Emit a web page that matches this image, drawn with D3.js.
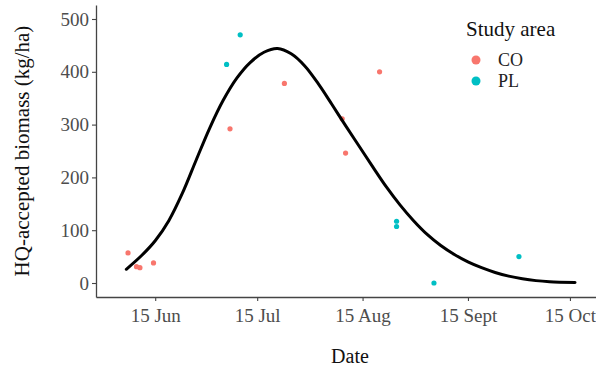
<!DOCTYPE html>
<html>
<head>
<meta charset="utf-8">
<script src="https://cdn.jsdelivr.net/npm/d3@7"></script>
<style>
  html, body { margin: 0; padding: 0; background: #fff; }
  svg { display: block; }
  text { font-family: "Liberation Serif", "Times New Roman", serif; }
</style>
</head>
<body>
<svg id="chart" width="596" height="368"></svg>
<script>
// Sampling observations, per study area
const coDates  = ["2021-06-07", "2021-06-09T12:00", "2021-06-10T12:00", "2021-06-14T12:00", "2021-07-07", "2021-07-23", "2021-08-09", "2021-08-10", "2021-08-20"];
const coValues = [57, 31, 29, 38, 292, 378, 311, 246, 400];
const plDates  = ["2021-07-06", "2021-07-10", "2021-08-25", "2021-08-25", "2021-09-05", "2021-09-30"];
const plValues = [414, 470, 117, 107, 0, 50];

// Fitted seasonal biomass curve
const fitDates  = ["2021-06-06T12:00", "2021-06-11", "2021-06-15", "2021-06-19", "2021-06-23", "2021-06-27",
                   "2021-07-01", "2021-07-05", "2021-07-09", "2021-07-13", "2021-07-17", "2021-07-21",
                   "2021-07-25", "2021-07-29", "2021-08-02", "2021-08-06", "2021-08-10", "2021-08-14",
                   "2021-08-18", "2021-08-22", "2021-08-26", "2021-08-30", "2021-09-03", "2021-09-07",
                   "2021-09-11", "2021-09-15", "2021-09-19", "2021-09-23", "2021-09-27", "2021-10-01",
                   "2021-10-05", "2021-10-09", "2021-10-16T12:00"];
const fitValues = [26, 52, 80, 118, 170, 232,
                   293, 346, 388, 418, 437, 444,
                   434, 411, 377, 338, 298, 259,
                   220, 182, 148, 118, 92, 71,
                   54, 40, 29, 20, 13, 8,
                   4.5, 2.5, 1];

// Axis ticks and legend
const xTickDates  = ["2021-06-15", "2021-07-15", "2021-08-15", "2021-09-15", "2021-10-15"];
const xTickLabels = ["15 Jun", "15 Jul", "15 Aug", "15 Sept", "15 Oct"];
const yTicks = [0, 100, 200, 300, 400, 500];
const areas = ["CO", "PL"];
const areaColors = ["#F8766D", "#00BFC4"];

const parse = d3.isoParse;
const svg = d3.select("#chart");

const plotLeft = 96, plotRight = 596, plotTop = 5, plotBottom = 297;

const x = d3.scaleTime()
  .domain([parse("2021-05-28T14:00"), parse("2021-10-22T16:00")])
  .range([plotLeft, plotRight]);
const y = d3.scaleLinear()
  .domain([-26.5, 526.5])
  .range([plotBottom, plotTop]);
const color = d3.scaleOrdinal().domain(areas).range(areaColors);

// Axes
const xAxis = d3.axisBottom(x)
  .tickValues(xTickDates.map(parse))
  .tickFormat((d, i) => xTickLabels[i])
  .tickSizeInner(4).tickSizeOuter(0).tickPadding(4);
const yAxis = d3.axisLeft(y)
  .tickValues(yTicks)
  .tickSizeInner(4).tickSizeOuter(0).tickPadding(3);

const gx = svg.append("g").attr("transform", `translate(0,${plotBottom})`).call(xAxis);
const gy = svg.append("g").attr("transform", `translate(${plotLeft},0)`).call(yAxis);

[gx, gy].forEach(g => {
  g.select(".domain").attr("stroke", "#444").attr("stroke-width", 1.3);
  g.selectAll(".tick line").attr("stroke", "#444").attr("stroke-width", 1.1);
  g.selectAll(".tick text")
    .attr("fill", "#4d4d4d")
    .style("font-size", "19px")
    .style("font-family", '"Liberation Serif", serif');
});
gx.selectAll(".tick text").attr("dy", "0.92em");

// Observations
const points = []
  .concat(coDates.map((d, i) => ({ date: parse(d), value: coValues[i], area: "CO" })))
  .concat(plDates.map((d, i) => ({ date: parse(d), value: plValues[i], area: "PL" })));

svg.append("g").selectAll("circle")
  .data(points)
  .join("circle")
  .attr("cx", d => x(d.date))
  .attr("cy", d => y(d.value))
  .attr("r", 2.6)
  .attr("fill", d => color(d.area));

// Fitted curve
const fit = fitDates.map((d, i) => ({ date: parse(d), value: fitValues[i] }));
svg.append("path")
  .datum(fit)
  .attr("fill", "none")
  .attr("stroke", "#000")
  .attr("stroke-width", 3)
  .attr("stroke-linecap", "round")
  .attr("d", d3.line().x(d => x(d.date)).y(d => y(d.value)).curve(d3.curveCatmullRom.alpha(0.5)));

// Axis titles
svg.append("text")
  .attr("x", 350).attr("y", 363)
  .attr("text-anchor", "middle")
  .style("font-size", "20px")
  .attr("fill", "#111")
  .text("Date");

svg.append("text")
  .attr("transform", "translate(29,151) rotate(-90)")
  .attr("text-anchor", "middle")
  .style("font-size", "21px")
  .attr("fill", "#111")
  .text("HQ-accepted biomass (kg/ha)");

// Legend
const legend = svg.append("g").attr("transform", "translate(466,0)");
legend.append("text")
  .attr("x", 0).attr("y", 36)
  .style("font-size", "21px")
  .attr("fill", "#111")
  .text("Study area");
const item = legend.selectAll("g.item")
  .data(areas)
  .join("g")
  .attr("class", "item")
  .attr("transform", (d, i) => `translate(0,${60 + i * 21})`);
item.append("circle")
  .attr("cx", 10).attr("cy", 0).attr("r", 4.5)
  .attr("fill", d => color(d));
item.append("text")
  .attr("x", 32).attr("y", 6)
  .style("font-size", "18px")
  .attr("fill", "#222")
  .text(d => d);
</script>
</body>
</html>
